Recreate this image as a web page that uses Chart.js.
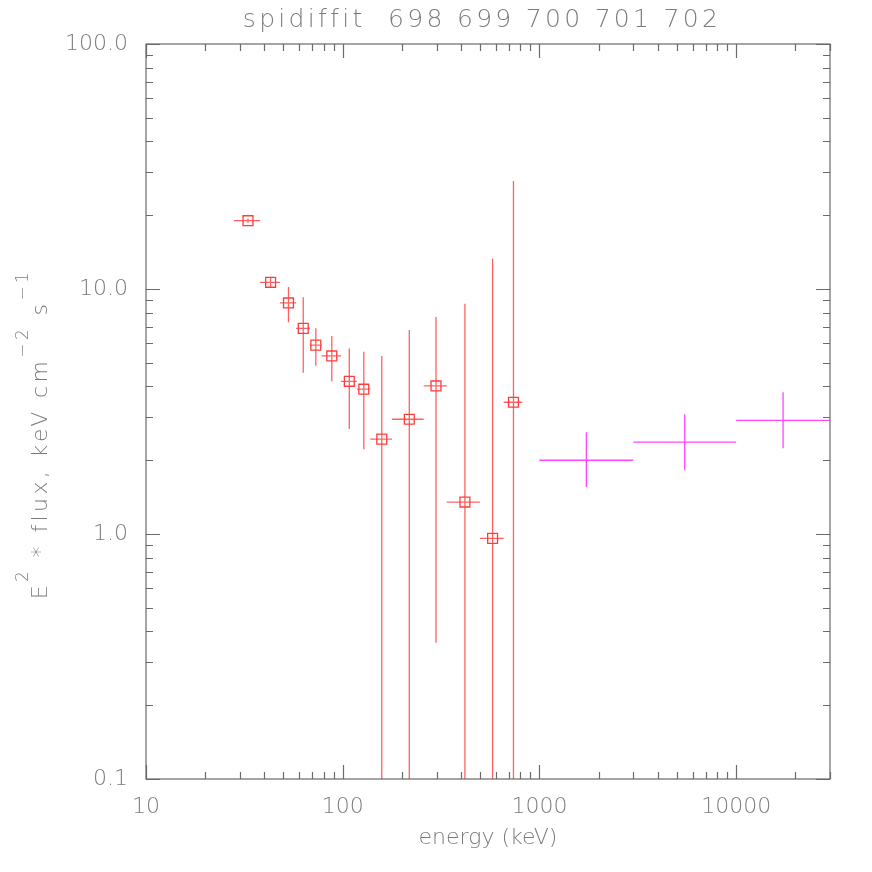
<!DOCTYPE html>
<html>
<head>
<meta charset="utf-8">
<script src="https://cdn.jsdelivr.net/npm/chart.js@4.4.0/dist/chart.umd.min.js"></script>
<style>
  html, body { margin: 0; padding: 0; background: #fff; }
</style>
</head>
<body>
<canvas id="c" width="872" height="872"></canvas>
<script>
// SPI energy bins (keV) and E^2 * flux values
const spiELow  = [28, 38, 48, 58, 68, 78, 98, 118, 138, 178, 258, 338, 498, 658];
const spiEHigh = [38, 48, 58, 68, 78, 98, 118, 138, 178, 258, 338, 498, 658, 818];
const spiE     = [33, 43, 53, 63, 73, 88, 108, 128, 158, 218, 298, 418, 578, 738];
const spiFlux  = [19.0, 10.65, 8.77, 6.91, 5.90, 5.33, 4.20, 3.90, 2.44, 2.94, 4.02, 1.35, 0.96, 3.45];
const spiUpper = [19.4, 11.1, 10.2, 9.25, 6.91, 6.43, 5.71, 5.55, 5.33, 6.8, 7.69, 8.71, 13.3, 27.6];
const spiLower = [18.6, 10.2, 7.31, 4.55, 4.86, 4.20, 2.68, 2.22, 0, 0, 0.36, 0, 0, 0];

// high energy points
const hiELow  = [1000, 3000, 10000];
const hiEHigh = [3000, 10000, 30000];
const hiE     = [1732, 5477, 17320];
const hiFlux  = [2.00, 2.37, 2.91];
const hiUpper = [2.60, 3.08, 3.79];
const hiLower = [1.55, 1.82, 2.24];

const xMajor = [10, 100, 1000, 10000];
const xMajorLabels = ['10', '100', '1000', '10000'];
const yMajor = [0.1, 1, 10, 100];
const yMajorLabels = ['0.1', '1.0', '10.0', '100.0'];

const titleText = 'spidiffit  698 699 700 701 702';
const xTitle = 'energy (keV)';

const textColor = '#7c7c7c';
const axisColor = '#6a6a6a';
const red = 'rgb(255,60,60)';
const magenta = 'rgb(255,70,255)';
const fontFamily = '"DejaVu Sans", sans-serif';

function logTicks(min, max) {
  const out = [];
  for (let d = Math.floor(Math.log10(min)); d <= Math.ceil(Math.log10(max)); d++) {
    for (let m = 1; m <= 9; m++) {
      const v = parseFloat((m * Math.pow(10, d)).toPrecision(6));
      if (v >= min && v <= max) out.push(v);
    }
  }
  return out;
}
const isMajor = (v, majors) => majors.some(m => Math.abs(v - m) / m < 1e-6);

const errorBarsAndFrame = {
  id: 'errorBarsAndFrame',
  beforeDatasetsDraw(chart) {
    const { ctx, chartArea: a, scales: { x, y } } = chart;
    ctx.save();
    ctx.beginPath();
    ctx.rect(a.left, a.top, a.right - a.left, a.bottom - a.top);
    ctx.clip();
    chart.data.datasets.forEach(ds => {
      ctx.strokeStyle = ds.errColor;
      ctx.lineWidth = 1.3;
      ds.data.forEach((p, i) => {
        const px = x.getPixelForValue(p.x);
        const py = y.getPixelForValue(p.y);
        const top = y.getPixelForValue(ds.yHigh[i]);
        const bot = ds.yLow[i] > y.min ? y.getPixelForValue(ds.yLow[i]) : a.bottom + 2;
        ctx.beginPath();
        ctx.moveTo(x.getPixelForValue(ds.xLow[i]), py);
        ctx.lineTo(x.getPixelForValue(ds.xHigh[i]), py);
        ctx.moveTo(px, top);
        ctx.lineTo(px, bot);
        ctx.stroke();
      });
    });
    ctx.restore();
  },
  afterDraw(chart) {
    const { ctx, chartArea: a, scales: { x, y } } = chart;
    ctx.save();
    // frame
    ctx.strokeStyle = axisColor;
    ctx.lineWidth = 1.2;
    ctx.strokeRect(a.left, a.top, a.right - a.left, a.bottom - a.top);
    // inward ticks on all four sides
    ctx.beginPath();
    x.ticks.forEach(t => {
      const px = Math.round(x.getPixelForValue(t.value)) + 0.5;
      const len = isMajor(t.value, xMajor) ? 14 : 7;
      ctx.moveTo(px, a.bottom); ctx.lineTo(px, a.bottom - len);
      ctx.moveTo(px, a.top); ctx.lineTo(px, a.top + len);
    });
    y.ticks.forEach(t => {
      const py = Math.round(y.getPixelForValue(t.value)) + 0.5;
      const len = isMajor(t.value, yMajor) ? 14 : 7;
      ctx.moveTo(a.left, py); ctx.lineTo(a.left + len, py);
      ctx.moveTo(a.right, py); ctx.lineTo(a.right - len, py);
    });
    ctx.stroke();

    // title
    ctx.fillStyle = textColor;
    ctx.font = '200 25px ' + fontFamily;
    ctx.letterSpacing = '3.3px';
    ctx.textAlign = 'center';
    ctx.textBaseline = 'alphabetic';
    ctx.fillText(titleText, 482, 27);

    // y axis title with superscripts
    const parts = [
      ['E', false], ['2', true], [' * flux, keV cm', false],
      ['\u22122', true], [' s', false], ['\u22121', true]
    ];
    const mainFont = '200 22px ' + fontFamily, supFont = '200 17px ' + fontFamily;
    ctx.letterSpacing = '3.4px';
    ctx.textAlign = 'left';
    let total = 0;
    parts.forEach(([s, sup]) => { ctx.font = sup ? supFont : mainFont; total += ctx.measureText(s).width; });
    ctx.translate(47, 434);
    ctx.rotate(-Math.PI / 2);
    let cx = -total / 2;
    parts.forEach(([s, sup]) => {
      ctx.font = sup ? supFont : mainFont;
      ctx.fillText(s, cx, sup ? -19 : 0);
      cx += ctx.measureText(s).width;
    });
    ctx.restore();
  }
};

new Chart(document.getElementById('c'), {
  type: 'scatter',
  data: {
    datasets: [
      {
        label: 'spi',
        data: spiE.map((e, i) => ({ x: e, y: spiFlux[i] })),
        xLow: spiELow, xHigh: spiEHigh, yLow: spiLower, yHigh: spiUpper,
        errColor: 'rgba(255,80,80,0.9)',
        pointStyle: 'rect',
        pointRadius: 7,
        borderWidth: 1.3,
        borderColor: red,
        backgroundColor: 'rgba(0,0,0,0)'
      },
      {
        label: 'high',
        data: hiE.map((e, i) => ({ x: e, y: hiFlux[i] })),
        xLow: hiELow, xHigh: hiEHigh, yLow: hiLower, yHigh: hiUpper,
        errColor: magenta,
        pointRadius: 0,
        borderColor: magenta,
        backgroundColor: magenta
      }
    ]
  },
  options: {
    responsive: false,
    animation: false,
    layout: { padding: { top: 44, right: 42, left: 0, bottom: 0 } },
    plugins: {
      legend: { display: false },
      tooltip: { enabled: false },
      title: { display: false }
    },
    scales: {
      x: {
        type: 'logarithmic',
        min: 10,
        max: 30000,
        grid: { display: false },
        border: { display: false },
        afterBuildTicks: s => { s.ticks = logTicks(10, 30000).map(v => ({ value: v })); },
        afterFit: s => { s.height = 93; },
        ticks: {
          autoSkip: false,
          maxRotation: 0,
          padding: 7,
          color: textColor,
          font: { family: fontFamily, size: 22, weight: '200' },
          callback: v => {
            const i = xMajor.findIndex(m => Math.abs(v - m) / m < 1e-6);
            return i >= 0 ? xMajorLabels[i] : '';
          }
        },
        title: {
          display: true,
          text: xTitle,
          color: textColor,
          font: { family: fontFamily, size: 22, weight: '200' },
          padding: { top: 0, bottom: 21 }
        }
      },
      y: {
        type: 'logarithmic',
        min: 0.1,
        max: 100,
        grid: { display: false },
        border: { display: false },
        afterBuildTicks: s => { s.ticks = logTicks(0.1, 100).map(v => ({ value: v })); },
        afterFit: s => { s.width = 146; },
        ticks: {
          autoSkip: false,
          padding: 10,
          color: textColor,
          font: { family: fontFamily, size: 22, weight: '200' },
          callback: v => {
            const i = yMajor.findIndex(m => Math.abs(v - m) / m < 1e-6);
            return i >= 0 ? yMajorLabels[i] : '';
          }
        }
      }
    }
  },
  plugins: [errorBarsAndFrame]
});
</script>
</body>
</html>
